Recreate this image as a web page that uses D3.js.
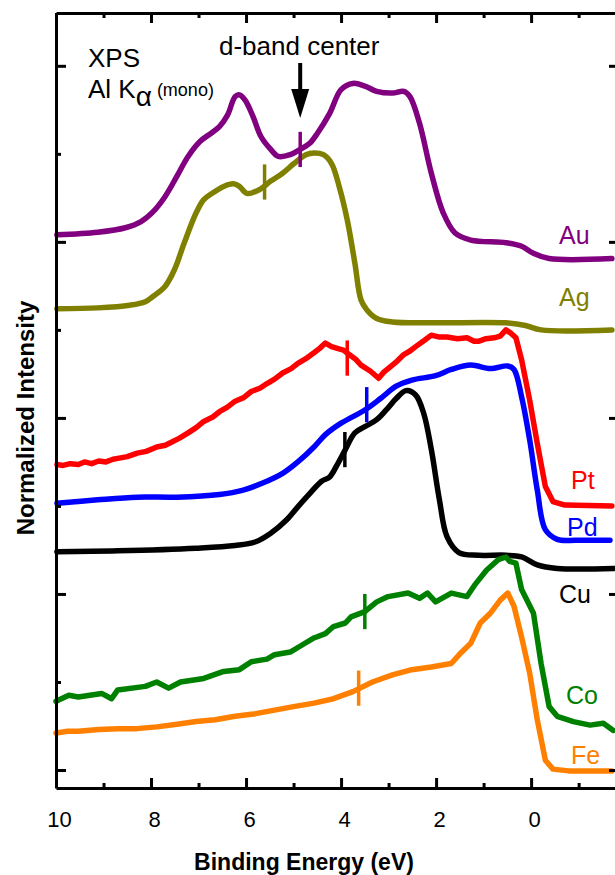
<!DOCTYPE html>
<html>
<head>
<meta charset="utf-8">
<script src="https://cdn.jsdelivr.net/npm/d3@7"></script>
<style>
  body { margin: 0; background: #fff; }
  text { font-family: "Liberation Sans", Arial, sans-serif; }
</style>
</head>
<body>
<script>
// XPS valence band spectra, d-band center marks

const w = 615;
const h = 875;

// energy axis ticks (eV)
const majorE = [10, 8, 6, 4, 2, 0];
const minorE = [9, 7, 5, 3, 1, -1];
// intensity ticks (no labels)
const majorI = [0, 2, 4, 6, 8];
const minorI = [1, 3, 5, 7];

const names = ["Au", "Ag", "Pt", "Pd", "Cu", "Co", "Fe"];
const colors = ["#800080", "#808000", "#ff0000", "#0000ff", "#000000", "#008000", "#ff8000"];

// Au
const auE = [9.98, 9.12, 8.54, 8.21, 7.96, 7.71, 7.46, 7.22, 6.97, 6.72, 6.56, 6.39, 6.23, 6.14, 6.02, 5.85, 5.69, 5.48, 5.32, 5.07, 4.86, 4.66, 4.49, 4.24, 4.00, 3.75, 3.50, 3.25, 2.92, 2.68, 2.55, 2.35, 2.10, 1.85, 1.60, 1.27, 0.53, 0.20, -0.05, -0.38, -1.70];
const auI = [6.08, 6.11, 6.16, 6.23, 6.34, 6.51, 6.74, 6.97, 7.14, 7.24, 7.31, 7.44, 7.65, 7.67, 7.61, 7.42, 7.20, 7.05, 6.97, 6.99, 7.05, 7.12, 7.24, 7.46, 7.73, 7.80, 7.77, 7.71, 7.69, 7.71, 7.65, 7.35, 6.78, 6.33, 6.10, 6.02, 5.99, 5.95, 5.87, 5.81, 5.81];

// Ag
const agE = [9.98, 9.12, 8.45, 8.12, 7.96, 7.71, 7.51, 7.30, 7.05, 6.89, 6.72, 6.47, 6.27, 6.14, 5.98, 5.73, 5.48, 5.23, 4.99, 4.74, 4.57, 4.37, 4.20, 4.04, 3.87, 3.71, 3.58, 3.46, 3.25, 2.92, 2.10, 0.53, 0.12, -0.21, -1.70];
const agI = [5.24, 5.25, 5.28, 5.32, 5.38, 5.49, 5.68, 5.99, 6.33, 6.48, 6.55, 6.63, 6.66, 6.63, 6.55, 6.59, 6.69, 6.78, 6.89, 6.99, 7.01, 6.99, 6.89, 6.63, 6.25, 5.76, 5.34, 5.23, 5.13, 5.09, 5.08, 5.08, 5.05, 5.00, 5.00];

// Pt
const ptE = [9.98, 9.85, 9.70, 9.53, 9.40, 9.25, 9.10, 8.95, 8.80, 8.70, 8.50, 8.29, 8.10, 7.88, 7.70, 7.55, 7.40, 7.22, 7.05, 6.89, 6.70, 6.56, 6.40, 6.23, 6.05, 5.89, 5.70, 5.56, 5.40, 5.23, 5.05, 4.91, 4.75, 4.57, 4.45, 4.33, 4.20, 4.08, 3.95, 3.83, 3.70, 3.58, 3.38, 3.21, 3.10, 3.01, 2.85, 2.68, 2.55, 2.43, 2.25, 2.10, 1.95, 1.77, 1.55, 1.35, 1.20, 1.11, 0.95, 0.78, 0.65, 0.53, 0.42, 0.32, 0.20, 0.03, -0.13, -0.30, -0.46, -0.71, -1.70];
const ptI = [3.47, 3.46, 3.48, 3.47, 3.50, 3.48, 3.51, 3.50, 3.53, 3.54, 3.56, 3.60, 3.62, 3.67, 3.69, 3.73, 3.77, 3.83, 3.89, 3.96, 4.01, 4.07, 4.12, 4.19, 4.23, 4.30, 4.34, 4.39, 4.44, 4.51, 4.56, 4.62, 4.67, 4.74, 4.79, 4.85, 4.81, 4.79, 4.77, 4.72, 4.67, 4.60, 4.53, 4.45, 4.52, 4.56, 4.63, 4.72, 4.76, 4.81, 4.88, 4.94, 4.92, 4.92, 4.90, 4.91, 4.87, 4.87, 4.90, 4.91, 4.93, 5.00, 4.96, 4.91, 4.66, 4.20, 3.71, 3.22, 3.05, 3.01, 3.00];

// Pd
const pdE = [9.98, 9.12, 8.29, 7.46, 6.56, 6.06, 5.65, 5.23, 4.91, 4.57, 4.33, 4.00, 3.50, 3.17, 2.84, 2.51, 2.01, 1.68, 1.27, 0.86, 0.49, 0.36, 0.20, 0.03, -0.13, -0.30, -0.55, -0.96, -1.66];
const pdI = [3.03, 3.07, 3.10, 3.10, 3.13, 3.18, 3.26, 3.37, 3.50, 3.67, 3.81, 3.94, 4.09, 4.22, 4.36, 4.43, 4.48, 4.55, 4.60, 4.56, 4.59, 4.55, 4.24, 3.75, 3.18, 2.73, 2.62, 2.61, 2.61];

// Cu
const cuE = [9.98, 8.70, 7.05, 6.23, 5.81, 5.48, 5.15, 4.91, 4.66, 4.41, 4.24, 4.08, 3.91, 3.71, 3.50, 3.25, 3.05, 2.84, 2.63, 2.43, 2.26, 2.10, 1.93, 1.77, 1.52, 1.11, 0.53, 0.20, -0.13, -0.55, -1.74];
const cuI = [2.48, 2.49, 2.52, 2.55, 2.59, 2.69, 2.84, 2.99, 3.14, 3.28, 3.33, 3.47, 3.64, 3.83, 3.90, 3.98, 4.09, 4.22, 4.31, 4.26, 4.05, 3.64, 3.07, 2.65, 2.47, 2.44, 2.44, 2.42, 2.33, 2.29, 2.29];

// Co
const coE = [10.0, 9.73, 9.53, 9.04, 8.83, 8.70, 8.12, 7.88, 7.63, 7.38, 6.89, 6.47, 6.14, 5.89, 5.56, 5.40, 5.07, 4.82, 4.57, 4.33, 4.16, 3.91, 3.79, 3.50, 3.25, 3.01, 2.59, 2.35, 2.18, 2.01, 1.68, 1.35, 1.19, 0.94, 0.69, 0.53, 0.45, 0.32, 0.20, -0.05, -0.21, -0.38, -0.55, -0.89, -1.24, -1.52, -1.73];
const coI = [0.78, 0.85, 0.83, 0.87, 0.81, 0.91, 0.95, 1.00, 0.93, 1.00, 1.04, 1.12, 1.14, 1.23, 1.26, 1.31, 1.34, 1.42, 1.50, 1.55, 1.63, 1.67, 1.74, 1.80, 1.91, 1.97, 2.01, 1.95, 2.01, 1.91, 2.01, 1.97, 2.10, 2.27, 2.39, 2.42, 2.37, 2.35, 2.05, 1.78, 1.21, 0.72, 0.61, 0.55, 0.51, 0.53, 0.45];

// Fe
const feE = [10.0, 9.75, 9.53, 9.10, 8.70, 8.30, 7.88, 7.45, 7.05, 6.65, 6.23, 5.80, 5.40, 5.00, 4.57, 4.16, 3.75, 3.34, 2.92, 2.51, 2.10, 1.68, 1.48, 1.27, 1.07, 0.86, 0.65, 0.49, 0.36, 0.20, 0.03, -0.13, -0.30, -0.46, -0.79, -1.70];
const feI = [0.42, 0.44, 0.44, 0.46, 0.47, 0.47, 0.49, 0.52, 0.55, 0.57, 0.61, 0.64, 0.68, 0.72, 0.76, 0.81, 0.89, 1.00, 1.08, 1.14, 1.17, 1.21, 1.33, 1.44, 1.67, 1.78, 1.93, 2.01, 1.86, 1.51, 1.10, 0.57, 0.11, 0.01, -0.01, -0.01];

// d-band centers (eV) and where the mark sits on each curve
const dCenterE = [4.86, 5.61, 3.87, 3.46, 3.92, 3.50, 3.63];
const dCenterI = [7.05, 6.68, 4.68, 4.15, 3.64, 1.80, 0.93];

const energies = [auE, agE, ptE, pdE, cuE, coE, feE];
const intens = [auI, agI, ptI, pdI, cuI, coI, feI];
const smooth = [true, true, false, true, true, false, false];

// label spots (px) for series names
const labelX = [559, 559, 571, 567, 559, 566, 571];
const labelY = [244, 306, 489, 536, 603, 704, 764];

// Scales
const xScale = d3.scaleLinear().domain([10, -1.85]).range([56, 619]);
const yScale = d3.scaleLinear().domain([-0.2045, 8.6]).range([788, 13]);

const svg = d3.select("body").append("svg")
  .attr("width", w)
  .attr("height", h);

svg.append("rect").attr("width", w).attr("height", h).attr("fill", "#fff");

// Curves
const lineSmooth = d3.line()
  .x(d => xScale(d[0]))
  .y(d => yScale(d[1]))
  .curve(d3.curveCatmullRom.alpha(0.5));
const lineRough = d3.line()
  .x(d => xScale(d[0]))
  .y(d => yScale(d[1]));

names.forEach((n, i) => {
  const pts = energies[i].map((e, j) => [e, intens[i][j]]);
  svg.append("path")
    .datum(pts)
    .attr("fill", "none")
    .attr("stroke", colors[i])
    .attr("stroke-width", 5.5)
    .attr("stroke-linejoin", "round")
    .attr("stroke-linecap", "round")
    .attr("d", smooth[i] ? lineSmooth : lineRough);
});

// d-band center marks
svg.selectAll("line.dmark")
  .data(names)
  .enter()
  .append("line")
  .attr("class", "dmark")
  .attr("x1", (d, i) => xScale(dCenterE[i]))
  .attr("x2", (d, i) => xScale(dCenterE[i]))
  .attr("y1", (d, i) => yScale(dCenterI[i] + 0.2))
  .attr("y2", (d, i) => yScale(dCenterI[i] - 0.2))
  .attr("stroke", (d, i) => colors[i])
  .attr("stroke-width", 3.5);

// Series names
svg.selectAll("text.name")
  .data(names)
  .enter()
  .append("text")
  .attr("class", "name")
  .attr("x", (d, i) => labelX[i])
  .attr("y", (d, i) => labelY[i])
  .attr("fill", (d, i) => colors[i])
  .style("font-size", "25px")
  .text(d => d);

// Axes
function styleAxis(g) {
  g.selectAll("path.domain").attr("stroke", "#000").attr("stroke-width", 3);
  g.selectAll(".tick line").attr("stroke", "#000").attr("stroke-width", 3);
}

const bottomAxis = d3.axisBottom(xScale)
  .tickValues(majorE)
  .tickSizeInner(-10)
  .tickSizeOuter(0)
  .tickPadding(23)
  .tickFormat(d3.format("d"));
const gb = svg.append("g")
  .attr("transform", "translate(0," + yScale.range()[0] + ")")
  .call(bottomAxis);
styleAxis(gb);
gb.selectAll(".tick text")
  .attr("dx", 3)
  .style("font-size", "22px")
  .style("font-family", "'Liberation Sans', Arial, sans-serif")
  .attr("fill", "#000");

const gbm = svg.append("g")
  .attr("transform", "translate(0," + yScale.range()[0] + ")")
  .call(d3.axisBottom(xScale).tickValues(minorE).tickSizeInner(-5).tickSizeOuter(0).tickFormat(""));
styleAxis(gbm);
gbm.select("path.domain").remove();

const gt = svg.append("g")
  .attr("transform", "translate(0," + yScale.range()[1] + ")")
  .call(d3.axisTop(xScale).tickValues(majorE).tickSizeInner(-10).tickSizeOuter(0).tickFormat(""));
styleAxis(gt);
const gtm = svg.append("g")
  .attr("transform", "translate(0," + yScale.range()[1] + ")")
  .call(d3.axisTop(xScale).tickValues(minorE).tickSizeInner(-5).tickSizeOuter(0).tickFormat(""));
styleAxis(gtm);
gtm.select("path.domain").remove();

const gl = svg.append("g")
  .attr("transform", "translate(" + xScale.range()[0] + ",0)")
  .call(d3.axisLeft(yScale).tickValues(majorI).tickSizeInner(-10).tickSizeOuter(0).tickFormat(""));
styleAxis(gl);
const glm = svg.append("g")
  .attr("transform", "translate(" + xScale.range()[0] + ",0)")
  .call(d3.axisLeft(yScale).tickValues(minorI).tickSizeInner(-5).tickSizeOuter(0).tickFormat(""));
styleAxis(glm);
glm.select("path.domain").remove();

const gr = svg.append("g")
  .attr("transform", "translate(" + xScale.range()[1] + ",0)")
  .call(d3.axisRight(yScale).tickValues(majorI).tickSizeInner(-10).tickSizeOuter(0).tickFormat(""));
styleAxis(gr);

// Axis titles
svg.append("text")
  .attr("x", 304)
  .attr("y", 870)
  .style("text-anchor", "middle")
  .style("font-weight", "bold")
  .style("font-size", "23px")
  .text("Binding Energy (eV)");

svg.append("text")
  .attr("transform", "rotate(-90)")
  .attr("x", -418)
  .attr("y", 34)
  .style("text-anchor", "middle")
  .style("font-weight", "bold")
  .style("font-size", "24px")
  .text("Normalized Intensity");

// Annotations
svg.append("text").attr("x", 88).attr("y", 67).style("font-size", "26px").text("XPS");
const kt = svg.append("text").attr("x", 88).attr("y", 98).style("font-size", "26px");
kt.append("tspan").text("Al K");
kt.append("tspan").attr("dy", 8).style("font-size", "28px").text("α");
kt.append("tspan").attr("dx", 5).attr("dy", -10).style("font-size", "18px").text("(mono)");

svg.append("text")
  .attr("x", 219)
  .attr("y", 55)
  .style("font-size", "26px")
  .text("d-band center");

// arrow pointing at the Au d-band center
const ax = xScale(dCenterE[0]);
svg.append("line")
  .attr("x1", ax).attr("x2", ax)
  .attr("y1", 63).attr("y2", 95)
  .attr("stroke", "#000")
  .attr("stroke-width", 4);
svg.append("path")
  .attr("d", "M" + (ax - 9) + ",89 L" + (ax + 9) + ",89 L" + ax + ",118 Z")
  .attr("fill", "#000");
</script>
</body>
</html>
